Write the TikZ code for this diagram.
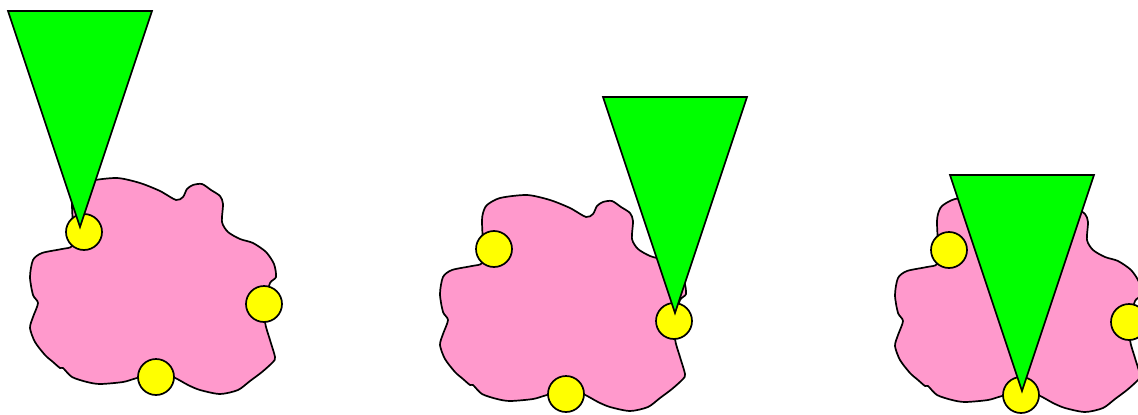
\documentclass[tikz,border=0pt]{standalone}
\usetikzlibrary{calc}
\definecolor{blobpink}{HTML}{FF99CC}
\definecolor{dotyellow}{HTML}{FFFF00}
\definecolor{conegreen}{HTML}{00FF00}
\tikzset{
  blobstyle/.style={fill=blobpink,draw=black,line width=1.7pt,line join=round},
  dotstyle/.style={fill=dotyellow,draw=black,line width=1.7pt},
  conestyle/.style={fill=conegreen,draw=black,line width=1.7pt,line join=miter},
}
\newcommand{\myblob}{%
  \path[blobstyle] plot[smooth cycle,tension=0.45] coordinates {
    (117,178) (140,183) (160,191) (176,200) (183,197) (187,189) (193,185) (202,184)
    (211,190) (220,196) (223,204) (222,222) (228,232) (240,239) (253,243) (266,252)
    (274,264) (276,277) (270,283) (266,300) (265,322) (270,340) (275,357) (273,362)
    (262,372) (250,381) (238,390) (220,394) (200,390) (188,385) (173,377) (156,374)
    (137,378) (123,382) (100,384) (87,382) (72,377) (63,368) (60,368) (53,362)
    (45,355) (35,342) (30,328) (33,317) (38,303) (33,295) (30,277) (33,260)
    (42,253) (62,249) (72,246) (73,230) (72,205) (73,196) (77,188) (90,181)
  };}
\newcommand{\mypanel}[4]{%
  \begin{scope}[shift={(#1,#2)}]
    \myblob
    \path[dotstyle] (84,232) circle[radius=18];
    \path[dotstyle] (264,304) circle[radius=18];
    \path[dotstyle] (156,377) circle[radius=18];
    \path[conestyle] (#3-72,#4-216) -- (#3+72,#4-216) -- (#3,#4) -- cycle;
  \end{scope}}
\begin{document}
\begin{tikzpicture}[x=1pt,y=-1pt]
\useasboundingbox (0,0) rectangle (1138,415);
\clip (0,0) rectangle (1138,415);
\fill[white] (0,0) rectangle (1138,415);
\mypanel{0}{0}{80}{227}
\mypanel{410}{17}{265}{296}
\mypanel{865}{18}{157}{373}
\end{tikzpicture}
\end{document}
